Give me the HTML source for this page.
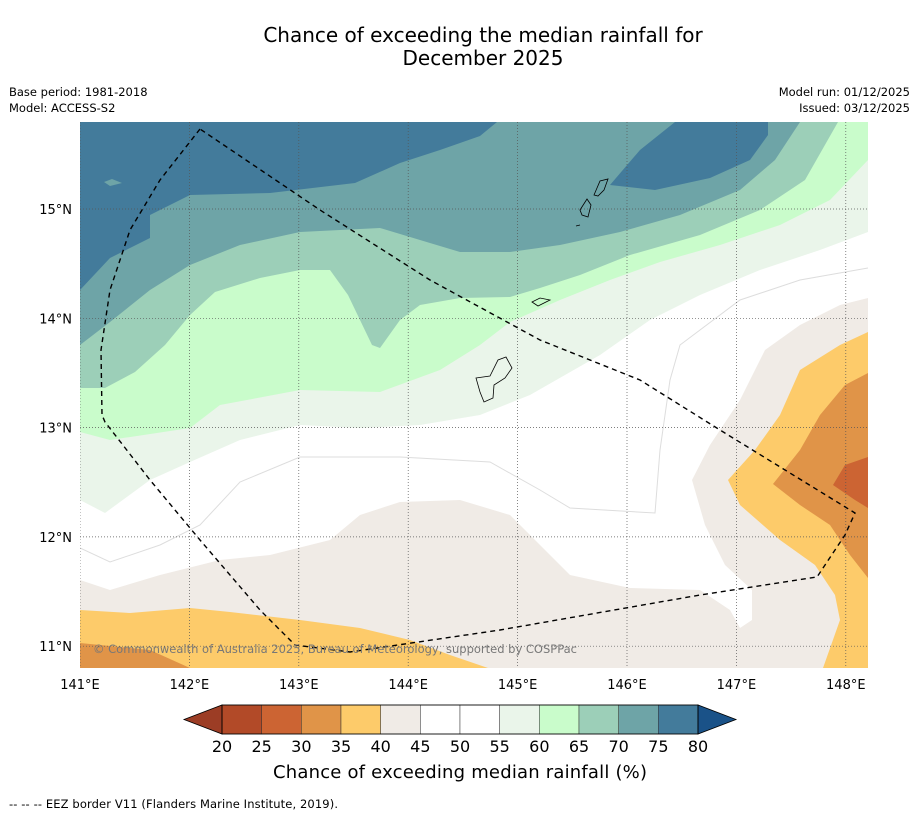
<!DOCTYPE html>
<html><head><meta charset="utf-8"><style>
body{margin:0;background:#fff;font-family:"Liberation Sans","DejaVu Sans",sans-serif;}
svg text{font-family:"DejaVu Sans","Liberation Sans",sans-serif;}
</style></head><body>
<svg id="c" width="919" height="816" viewBox="0 0 919 816" xmlns="http://www.w3.org/2000/svg">
<text x="483" y="42" text-anchor="middle" font-size="20">Chance of exceeding the median rainfall for</text>
<text x="483" y="65" text-anchor="middle" font-size="20">December 2025</text>
<text x="9" y="96" font-size="11.5">Base period: 1981-2018</text>
<text x="9" y="112" font-size="11.5">Model: ACCESS-S2</text>
<text x="910" y="96" font-size="11.5" text-anchor="end">Model run: 01/12/2025</text>
<text x="910" y="112" font-size="11.5" text-anchor="end">Issued: 03/12/2025</text>
<defs><clipPath id="mc"><rect x="80" y="122" width="788" height="546"/></clipPath></defs>
<g clip-path="url(#mc)">
<rect x="80" y="122" width="788" height="546" fill="#fff"/>
<polygon fill="#eaf5ea" points="80,500 105,513 150,480 190,462 240,440 300,425 360,428 420,425 480,415 530,395 600,355 650,320 700,295 760,270 820,250 868,232 868,122 80,122"/>
<polygon fill="#c9fccb" points="80,432 110,440 190,428 220,405 300,390 380,392 440,370 480,345 510,322 560,300 610,280 660,262 720,245 780,225 830,200 868,160 868,122 80,122"/>
<polygon fill="#9ccfb8" points="80,388 105,388 135,372 165,345 190,315 215,292 260,278 300,270 330,270 348,295 372,345 380,348 400,320 420,305 460,298 510,297 540,288 580,275 630,255 700,235 760,210 805,180 838,122 80,122"/>
<polygon fill="#6ea4a7" points="80,345 110,322 150,290 190,265 240,245 300,232 380,228 420,240 460,252 510,252 560,245 620,232 680,215 740,190 775,160 800,122 80,122"/>
<polygon fill="#437b9b" points="80,290 110,258 150,238 150,215 190,195 270,193 355,183 400,163 440,150 480,136 497,122 80,122"/>
<polygon fill="#437b9b" points="610,185 655,190 710,178 750,160 768,135 768,122 675,122 640,150"/>
<polygon fill="#6ea4a7" points="104,182 112,179 122,183 110,186"/>
<polygon fill="#f0ebe6" points="80,580 110,590 160,575 220,560 270,555 330,540 360,515 400,502 460,500 510,515 540,545 570,575 630,588 700,590 730,610 740,628 752,620 752,590 725,565 705,525 692,480 710,445 740,400 765,350 800,325 840,305 868,298 868,668 80,668"/>
<polygon fill="#fdcb6a" points="80,610 130,613 190,608 230,612 300,620 360,628 410,640 450,655 488,668 80,668"/>
<polygon fill="#fdcb6a" points="868,332 840,345 800,370 780,415 755,450 728,480 740,505 780,540 815,565 835,595 840,620 823,668 868,668"/>
<polygon fill="#e09448" points="80,643 150,650 190,668 80,668"/>
<polygon fill="#e09448" points="868,373 845,385 820,415 800,450 773,484 800,505 830,525 850,555 868,578"/>
<polygon fill="#cc6433" points="868,457 845,465 833,485 855,500 868,508"/>
<polyline fill="none" stroke="#ddd" stroke-width="1" points="80,548 110,562 160,545 200,525 240,482 300,457 400,457 490,462 540,490 570,508 655,513 660,450 670,380 680,345 740,300 800,280 868,268"/>
<g id="grid"></g>
<g fill="none" stroke="#000" stroke-width="0.8">
<path d="M476,378 L490,376 L498,360 L506,357 L512,368 L505,378 L494,385 L493,398 L484,402 L480,392 Z"/>
<path d="M532,302 L540,298 L550,300 L538,306 Z"/>
<path d="M580,210 L587,199 L591,205 L588,217 L582,215 Z"/>
<path d="M594,195 L600,181 L608,179 L604,190 L598,196 Z"/>
<path d="M576,226 L580,225"/>
</g>
<polyline fill="none" stroke="#000" stroke-width="1.4" stroke-dasharray="5,4" points="200,129 160,180 130,230 110,290 101,350 102,415 105,422 150,480 200,540 260,610 295,645 350,652 500,630 700,595 817,577 845,535 855,513 720,430 640,380 540,340 430,280 320,210 200,129"/>
<text x="93" y="653" font-size="11.5" fill="#777" textLength="484">© Commonwealth of Australia 2025, Bureau of Meteorology, supported by COSPPac</text>
</g>
<g id="axes"></g>
<g id="cbar"></g>
<text x="460" y="778" text-anchor="middle" font-size="18" textLength="374">Chance of exceeding median rainfall (%)</text>
<text x="9" y="808" font-size="11.5" textLength="329">--  --  -- EEZ border V11 (Flanders Marine Institute, 2019).</text>
</svg>
<script>
const lonTicks=[141,142,143,144,145,146,147,148];
const latTicks=[15,14,13,12,11];
const levels=[20,25,30,35,40,45,50,55,60,65,70,75,80];
const bandColors=["#b24a28","#cc6433","#e09448","#fdcb6a","#f0ebe6","#ffffff","#ffffff","#eaf5ea","#c9fccb","#9ccfb8","#6ea4a7","#437b9b"];
const underColor="#9c3d25", overColor="#1a5288";
const NS="http://www.w3.org/2000/svg";
const xl=lon=>80+(lon-141)*109.4, yl=lat=>209+(15-lat)*109.3;
function mk(t,a,p){const e=document.createElementNS(NS,t);for(const k in a)e.setAttribute(k,a[k]);p.appendChild(e);return e;}
const grid=document.getElementById('grid'),axes=document.getElementById('axes'),cb=document.getElementById('cbar');
lonTicks.forEach(v=>{const x=xl(v);
const l=mk('line',{x1:x,x2:x,y1:122,y2:668,stroke:'#555','stroke-width':0.7,'stroke-dasharray':'1,2'},grid);


const t=mk('text',{x:x,y:689,'text-anchor':'middle','font-size':13},axes);t.textContent=v+'°E';

});
latTicks.forEach(v=>{const y=yl(v);
const l=mk('line',{x1:80,x2:868,y1:y,y2:y,stroke:'#555','stroke-width':0.7,'stroke-dasharray':'1,2'},grid);


const t=mk('text',{x:72,y:y+5,'text-anchor':'end','font-size':13},axes);t.textContent=v+'°N';

});
const cx0=222,cx1=698,cy=705,ch=29,n=bandColors.length;
const cx=v=>cx0+(v-levels[0])/(levels[n]-levels[0])*(cx1-cx0);
bandColors.forEach((c,i)=>{const r=mk('rect',{x:cx(levels[i]),y:cy,width:cx(levels[i+1])-cx(levels[i]),height:ch,fill:c,stroke:'#333','stroke-width':0.5},cb);

});
const u=mk('polygon',{points:`${cx0},${cy} ${cx0},${cy+ch} 184,${cy+ch/2}`,fill:underColor,stroke:'#000','stroke-width':0.8},cb);


const o=mk('polygon',{points:`${cx1},${cy} ${cx1},${cy+ch} 736,${cy+ch/2}`,fill:overColor,stroke:'#000','stroke-width':0.8},cb);


const fr=mk('rect',{x:cx0,y:cy,width:cx1-cx0,height:ch,fill:'none',stroke:'#000','stroke-width':0.8},cb);


levels.forEach(v=>{const t=mk('text',{x:cx(v),y:752,'text-anchor':'middle','font-size':16},cb);t.textContent=v;

});
</script>
</body></html>
